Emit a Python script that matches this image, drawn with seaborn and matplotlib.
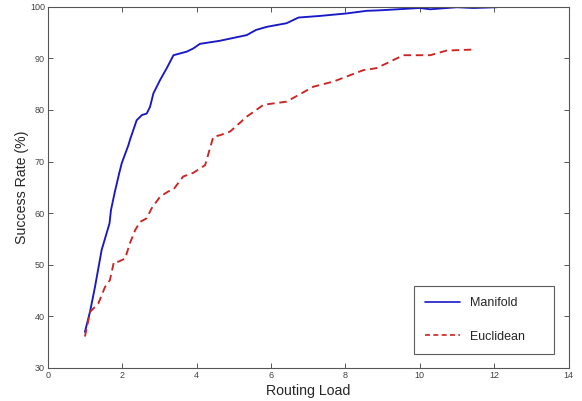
import matplotlib
matplotlib.use("Agg")
import matplotlib.pyplot as plt
import seaborn as sns
import pandas as pd
from matplotlib.lines import Line2D

# Data
manifold_x = [1.00, 1.14, 1.27, 1.45, 1.66, 1.70, 1.80, 1.92, 1.99, 2.17, 2.21, 2.39, 2.53, 2.66,
              2.75, 2.84, 3.02, 3.20, 3.38, 3.74, 3.91, 4.09, 4.63, 5.35, 5.60, 5.89, 6.42,
              6.74, 7.30, 8.04, 8.57, 8.93, 10.0, 10.28, 11.0, 11.44, 12.07]
manifold_y = [37.0, 41.0, 45.7, 52.9, 58.0, 60.6, 64.0, 67.7, 69.7, 73.2, 74.2, 78.0, 79.0, 79.3,
              80.6, 83.2, 85.8, 88.1, 90.6, 91.3, 91.9, 92.8, 93.4, 94.5, 95.5, 96.1, 96.8,
              97.9, 98.2, 98.7, 99.2, 99.3, 99.75, 99.5, 99.9, 99.75, 99.9]

euclid_x = [1.00, 1.14, 1.36, 1.54, 1.67, 1.78, 1.90, 2.08, 2.21, 2.35, 2.48, 2.66, 2.79, 3.02,
            3.24, 3.38, 3.64, 3.91, 4.23, 4.45, 4.63, 4.90, 5.35, 5.80, 6.42, 7.14, 7.68,
            8.48, 8.84, 9.56, 10.28, 10.72, 11.44]
euclid_y = [36.1, 40.9, 42.5, 45.7, 47.0, 50.6, 50.6, 51.2, 54.2, 56.7, 58.3, 59.0, 60.9, 63.2,
            64.2, 64.6, 67.1, 67.8, 69.3, 74.8, 75.1, 75.8, 78.7, 81.0, 81.6, 84.5, 85.5,
            87.7, 88.1, 90.6, 90.6, 91.5, 91.7]

series_names = ["Manifold", "Euclidean"]
x_ticks = [0, 2, 4, 6, 8, 10, 12, 14]
y_ticks = [30, 40, 50, 60, 70, 80, 90, 100]

sns.set_style("white")
plt.rcParams['font.family'] = ['Liberation Sans', 'DejaVu Sans']

df = pd.concat([
    pd.DataFrame({"x": manifold_x, "y": manifold_y, "series": series_names[0]}),
    pd.DataFrame({"x": euclid_x, "y": euclid_y, "series": series_names[1]}),
])

fig = plt.figure(figsize=(5.82, 4.01), dpi=100)
ax = fig.add_axes([0.082, 0.0823, 0.895, 0.9010])

sns.lineplot(data=df, x="x", y="y", hue="series", style="series",
             palette={"Manifold": "#1818c8", "Euclidean": "#cc2424"},
             dashes={"Manifold": "", "Euclidean": (4, 2.5)},
             linewidth=1.35, sort=False, ax=ax, legend=False)

ax.set_xlim(0, 14)
ax.set_ylim(30, 100)
ax.set_xticks(x_ticks)
ax.set_yticks(y_ticks)
ax.tick_params(direction='in', length=3.5, width=0.7, colors='#555555',
               labelsize=6.5, labelcolor='#444444', top=True, right=True,
               bottom=True, left=True, pad=2)
for side in ['left', 'bottom', 'top', 'right']:
    ax.spines[side].set_visible(True)
    ax.spines[side].set_color('#555555')
    ax.spines[side].set_linewidth(0.8)

ax.set_xlabel("Routing Load", fontsize=10.2, labelpad=3)
ax.set_ylabel("Success Rate (%)", fontsize=10.2, labelpad=1)

handles = [Line2D([], [], color="#1818c8", lw=1.2),
           Line2D([], [], color="#cc2424", lw=1.2, dashes=(3, 2))]
leg = ax.legend(handles, series_names, loc='lower left', fontsize=9,
                frameon=True, fancybox=False, handlelength=2.8, handletextpad=0.8,
                labelspacing=1.75, borderpad=0.9, borderaxespad=0.0,
                mode='expand', bbox_to_anchor=(0.703, 0.0387, 0.269, 0.19))
leg.get_frame().set_edgecolor('#333333')
leg.get_frame().set_linewidth(0.8)

fig.savefig("out.png", dpi=100)
